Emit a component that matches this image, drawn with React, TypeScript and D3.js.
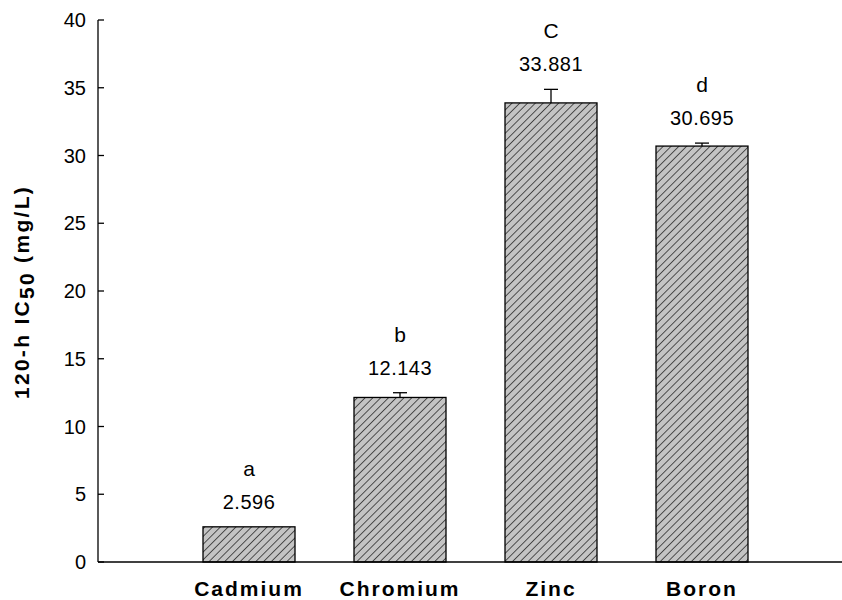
import React from "react";
import * as d3 from "d3";

const categories = ["Cadmium", "Chromium", "Zinc", "Boron"];
const values = [2.596, 12.143, 33.881, 30.695];
const errors = [0, 0.35, 1.0, 0.22];
const letters = ["a", "b", "C", "d"];
const yTicks = [0, 5, 10, 15, 20, 25, 30, 35, 40];

export default function App() {
  const W = 842, H = 600;
  const x0 = 98, y0 = 562, yTop = 20;
  const step = 151;
  const y = d3.scaleLinear().domain([0, 40]).range([y0, yTop]);
  const x = d3.scalePoint<string>().domain(["_start", ...categories, "_end"]).range([x0, x0 + step * 5]);
  const barW = 92;
  const font = "Arial, 'Liberation Sans', sans-serif";
  return (
    <svg width={W} height={H} style={{ position: "absolute", left: 0, top: 0 }}>
      <defs>
        <pattern id="hatch" patternUnits="userSpaceOnUse" width="5.5" height="5.5" patternTransform="rotate(45)">
          <rect width="5.5" height="5.5" fill="#c4c4c4" />
          <line x1="0" y1="0" x2="0" y2="5.5" stroke="#1a1a1a" strokeWidth="1.4" />
        </pattern>
      </defs>
      <rect width={W} height={H} fill="#fff" />
      {categories.map((c, i) => {
        const cx = x(c) as number;
        const top = y(values[i]);
        const errTop = y(values[i] + errors[i]);
        return (
          <g key={c}>
            <rect x={cx - barW / 2} y={top} width={barW} height={y0 - top} fill="url(#hatch)" stroke="#000" strokeWidth={1.3} />
            {errors[i] > 0 && (
              <g stroke="#000" strokeWidth={1.3}>
                <line x1={cx} x2={cx} y1={top} y2={errTop} />
                <line x1={cx - 7} x2={cx + 7} y1={errTop} y2={errTop} />
              </g>
            )}
            <text x={cx} y={errTop - 18} textAnchor="middle" fontFamily={font} fontSize={20} letterSpacing={0.5} fill="#000">
              {values[i].toFixed(3)}
            </text>
            <text x={cx} y={errTop - 51} textAnchor="middle" fontFamily={font} fontSize={21} fill="#000">
              {letters[i]}
            </text>
            <text x={cx} y={y0 + 34} textAnchor="middle" fontFamily={font} fontSize={21} fontWeight="bold" letterSpacing={2} fill="#000">
              {c}
            </text>
          </g>
        );
      })}
      <line x1={x0} x2={W} y1={y0} y2={y0} stroke="#000" strokeWidth={1.3} />
      <line x1={x0} x2={x0} y1={yTop} y2={y0} stroke="#000" strokeWidth={1.3} />
      {yTicks.map((t) => (
        <g key={t}>
          <line x1={x0} x2={x0 + 6} y1={y(t)} y2={y(t)} stroke="#000" strokeWidth={1.3} />
          <text x={x0 - 12} y={y(t) + 7} textAnchor="end" fontFamily={font} fontSize={20} fill="#000">
            {t}
          </text>
        </g>
      ))}
      <text transform={`translate(29, ${292}) rotate(-90)`} textAnchor="middle" fontFamily={font} fontSize={21} fontWeight="bold" letterSpacing={2.3} fill="#000">
        120-h IC<tspan dy={5}>50</tspan><tspan dy={-5}> (mg/L)</tspan>
      </text>
    </svg>
  );
}
